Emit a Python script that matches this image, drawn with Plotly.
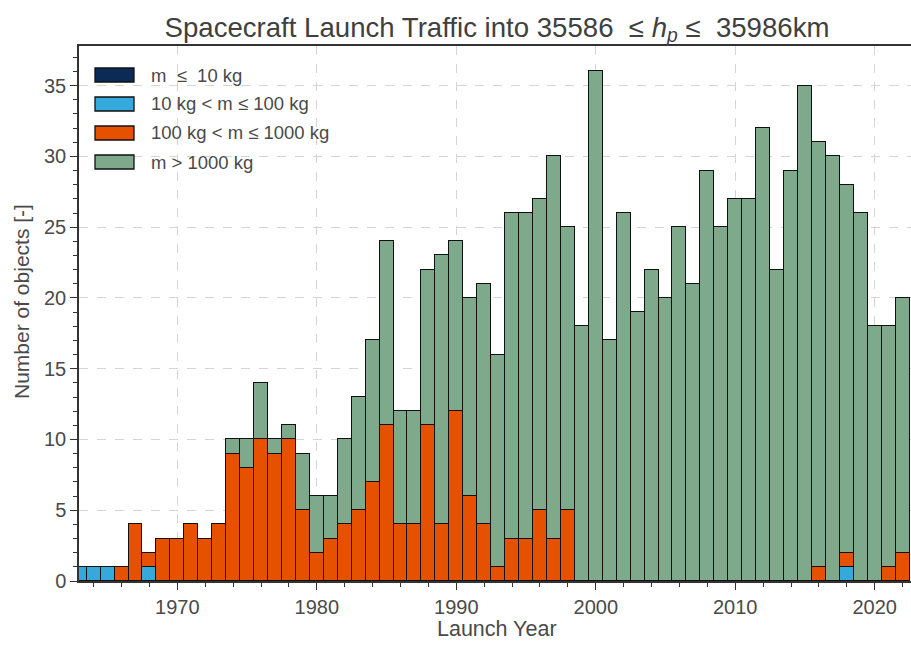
import plotly.graph_objects as go

years = list(range(1963, 2023))

mass_lt10 = [0] * 60

mass_10_100 = [1, 1, 1, 0, 0, 1, 0, 0, 0, 0,
               0, 0, 0, 0, 0, 0, 0, 0, 0, 0,
               0, 0, 0, 0, 0, 0, 0, 0, 0, 0,
               0, 0, 0, 0, 0, 0, 0, 0, 0, 0,
               0, 0, 0, 0, 0, 0, 0, 0, 0, 0,
               0, 0, 0, 0, 0, 1, 0, 0, 0, 0]

mass_100_1000 = [0, 0, 0, 1, 4, 1, 3, 3, 4, 3,
                 4, 9, 8, 10, 9, 10, 5, 2, 3, 4,
                 5, 7, 11, 4, 4, 11, 4, 12, 6, 4,
                 1, 3, 3, 5, 3, 5, 0, 0, 0, 0,
                 0, 0, 0, 0, 0, 0, 0, 0, 0, 0,
                 0, 0, 0, 1, 0, 1, 0, 0, 1, 2]

mass_gt1000 = [0, 0, 0, 0, 0, 0, 0, 0, 0, 0,
               0, 1, 2, 4, 1, 1, 4, 4, 3, 6,
               8, 10, 13, 8, 8, 11, 19, 12, 14, 17,
               15, 23, 23, 22, 27, 20, 18, 36, 17, 26,
               19, 22, 20, 25, 21, 29, 25, 27, 27, 32,
               22, 29, 35, 30, 30, 26, 26, 18, 17, 18]

series_names = ["m  \u2264  10 kg", "10 kg < m \u2264 100 kg",
                "100 kg < m \u2264 1000 kg", "m > 1000 kg"]
series_colors = ["#0b2a55", "#35a9dc", "#e65100", "#7fa98b"]
series_values = [mass_lt10, mass_10_100, mass_100_1000, mass_gt1000]

x_ticks = [1970, 1980, 1990, 2000, 2010, 2020]
y_ticks = [0, 5, 10, 15, 20, 25, 30, 35]

# page body margin is removed by the post script, so screen == figure coords
W, H = 911, 646
L, R, T = 79, 0, 46
B = H - 581
PW, PH = W - L - R, H - T - B

def px_x(p):
    return (p - L) / PW

def px_y(p):
    return (H - B - p) / PH

FONT = "Liberation Sans, Arial, Helvetica, sans-serif"
TXT = "#4a4a4a"

fig = go.Figure()
for name, color, vals in zip(series_names, series_colors, series_values):
    fig.add_trace(go.Bar(
        x=years, y=vals, name=name, width=1.0,
        marker=dict(color=color, line=dict(color="#111111", width=1.3)),
        showlegend=False,
    ))

fig.update_layout(
    width=W, height=H, autosize=False,
    margin=dict(l=L, r=R, t=T, b=B),
    barmode="stack", bargap=0,
    plot_bgcolor="white", paper_bgcolor="white",
    font=dict(family=FONT, color=TXT, size=20),
    title=dict(text="Spacecraft Launch Traffic into 35586  \u2264 <i>h</i><sub><i>p</i></sub> \u2264  35986km",
               x=497 / W, xanchor="center",
               y=1 - 27 / H, yanchor="middle",
               font=dict(size=27.6, color="#404040", family=FONT)),
    xaxis=dict(range=[1962.95, 2022.6], tickvals=x_ticks,
               ticks="outside", ticklen=7, tickwidth=1.2, tickcolor="#333333",
               minor=dict(ticks="outside", dtick=2, tick0=1964, ticklen=4,
                          tickwidth=1, tickcolor="#333333", showgrid=False),
               showgrid=True, gridcolor="#d4d4d4", griddash="dash", gridwidth=1,
               showline=True, linecolor="#333333", linewidth=1.5, mirror=True,
               zeroline=False, tickfont=dict(size=20, color=TXT)),
    yaxis=dict(range=[0, 37.8], tickvals=y_ticks,
               ticks="outside", ticklen=7, tickwidth=1.2, tickcolor="#333333",
               minor=dict(ticks="outside", dtick=1, ticklen=4,
                          tickwidth=1, tickcolor="#333333", showgrid=False),
               showgrid=True, gridcolor="#d4d4d4", griddash="dash", gridwidth=1,
               showline=True, linecolor="#333333", linewidth=1.5,
               zeroline=False, tickfont=dict(size=20, color=TXT)),
)

# axis titles
fig.add_annotation(text="Launch Year", xref="paper", yref="paper",
                   x=px_x(497), y=px_y(629), showarrow=False,
                   xanchor="center", yanchor="middle",
                   font=dict(size=21.5, color=TXT, family=FONT))
fig.add_annotation(text="Number of objects [-]", xref="paper", yref="paper",
                   x=px_x(21), y=px_y(302), showarrow=False, textangle=-90,
                   xanchor="center", yanchor="middle",
                   font=dict(size=21, color=TXT, family=FONT))

# legend (drawn manually to match wide patch style)
rows = [75, 104, 133, 162]
for name, color, ry in zip(series_names, series_colors, rows):
    fig.add_shape(type="rect", xref="paper", yref="paper",
                  x0=px_x(95), x1=px_x(134), y0=px_y(ry + 7), y1=px_y(ry - 7),
                  fillcolor=color, line=dict(color="#111111", width=1.3))
    fig.add_annotation(text=name, xref="paper", yref="paper",
                       x=px_x(149), y=px_y(ry), showarrow=False,
                       xanchor="left", yanchor="middle",
                       font=dict(size=18.5, color=TXT, family=FONT))

fig.write_html(
    "out.html",
    config={"displayModeBar": False},
    post_script="document.body.style.margin='0';document.body.style.overflow='hidden';",
)
